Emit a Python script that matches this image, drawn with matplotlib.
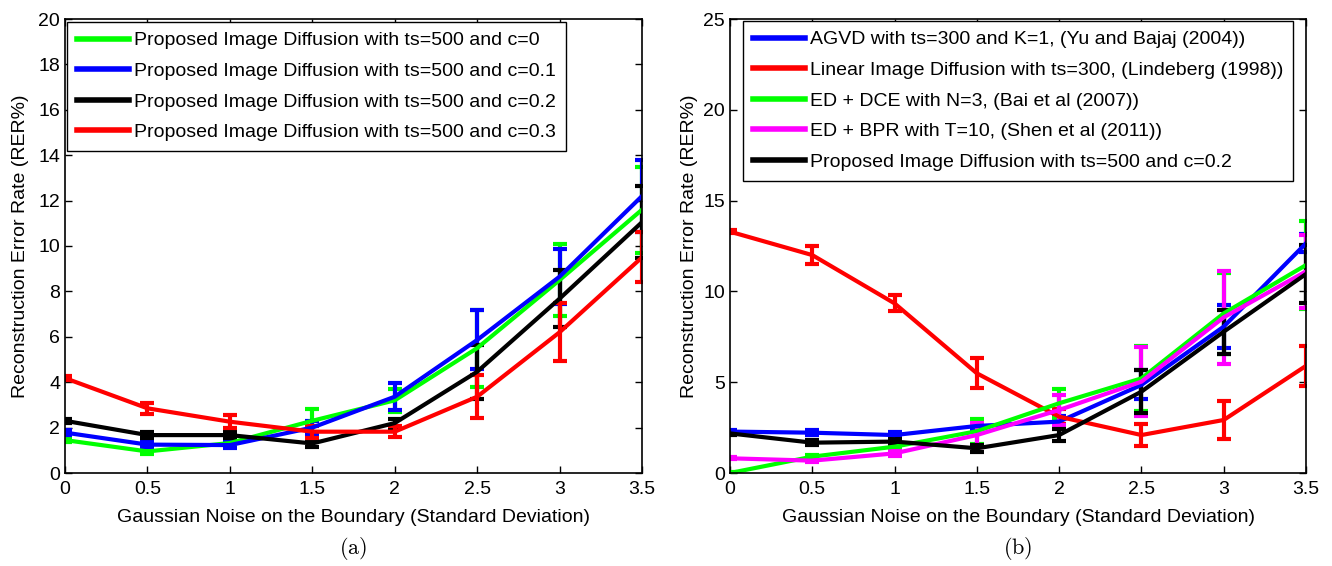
import matplotlib
matplotlib.use("Agg")
import matplotlib.pyplot as plt
from matplotlib.lines import Line2D

plt.rcParams['font.family'] = ['Liberation Sans', 'DejaVu Sans']
plt.rcParams['mathtext.fontset'] = 'cm'

noise = [0, 0.5, 1, 1.5, 2, 2.5, 3, 3.5]
xticks = [0, 0.5, 1, 1.5, 2, 2.5, 3, 3.5]
xtick_labels = ['0', '0.5', '1', '1.5', '2', '2.5', '3', '3.5']

# (a) proposed diffusion with different c
a_labels = ['Proposed Image Diffusion with ts=500 and c=0',
            'Proposed Image Diffusion with ts=500 and c=0.1',
            'Proposed Image Diffusion with ts=500 and c=0.2',
            'Proposed Image Diffusion with ts=500 and c=0.3']
a_colors = ['#00ff00', '#0000ff', '#000000', '#ff0000']
c0_mean = [1.45, 0.95, 1.32, 2.3, 3.2, 5.5, 8.5, 11.6]
c0_err = [0.1, 0.1, 0.1, 0.5, 0.5, 1.7, 1.6, 1.9]
c1_mean = [1.78, 1.25, 1.23, 2.0, 3.36, 5.86, 8.65, 12.2]
c1_err = [0.1, 0.1, 0.15, 0.3, 0.6, 1.3, 1.2, 1.6]
c2_mean = [2.3, 1.67, 1.67, 1.3, 2.2, 4.46, 7.68, 11.05]
c2_err = [0.1, 0.15, 0.15, 0.15, 0.2, 1.2, 1.25, 1.6]
c3_mean = [4.18, 2.85, 2.26, 1.82, 1.82, 3.36, 6.2, 9.5]
c3_err = [0.1, 0.25, 0.28, 0.27, 0.25, 0.95, 1.27, 1.1]

# (b) comparison with other methods
b_labels = ['AGVD with ts=300 and K=1, (Yu and Bajaj (2004))',
            'Linear Image Diffusion with ts=300, (Lindeberg (1998))',
            'ED + DCE with N=3, (Bai et al (2007))',
            'ED + BPR with T=10, (Shen et al (2011))',
            'Proposed Image Diffusion with ts=500 and c=0.2']
b_colors = ['#0000ff', '#ff0000', '#00ff00', '#ff00ff', '#000000']
agvd_mean = [2.28, 2.22, 2.09, 2.59, 2.83, 4.85, 8.06, 12.65]
agvd_err = [0.1, 0.15, 0.15, 0.15, 0.3, 0.8, 1.2, 0.5]
linear_mean = [13.29, 12.0, 9.34, 5.49, 3.1, 2.09, 2.92, 5.9]
linear_err = [0.1, 0.5, 0.44, 0.82, 0.4, 0.6, 1.04, 1.12]
dce_mean = [0.0, 0.9, 1.45, 2.3, 3.84, 5.21, 8.79, 11.45]
dce_err = [0.05, 0.1, 0.1, 0.7, 0.8, 1.8, 2.24, 2.4]
bpr_mean = [0.81, 0.68, 1.08, 2.09, 3.47, 5.03, 8.57, 11.1]
bpr_err = [0.05, 0.1, 0.15, 0.66, 0.8, 1.9, 2.57, 2.0]
prop_mean = [2.18, 1.67, 1.73, 1.36, 2.09, 4.48, 7.78, 10.96]
prop_err = [0.1, 0.15, 0.15, 0.2, 0.35, 1.2, 1.2, 1.6]

fig = plt.figure(figsize=(13.32, 5.66), dpi=100)
axa = fig.add_axes([65 / 1332, 93 / 566, 577 / 1332, 454 / 566])
axb = fig.add_axes([730 / 1332, 93 / 566, 576 / 1332, 454 / 566])


def draw(ax, means, errs, colors, labels, ymax, yticks, loc, anchor, ypad):
    for m, e, c in zip(means, errs, colors):
        ax.errorbar(noise, m, yerr=e, color=c, lw=3, elinewidth=3,
                    capsize=5, capthick=3)
    ax.set_xlim(0, 3.5)
    ax.set_ylim(0, ymax)
    ax.set_xticks(xticks)
    ax.set_xticklabels(xtick_labels)
    ax.set_yticks(yticks)
    ax.tick_params(direction='in', top=True, right=True, length=5,
                   labelsize=14, width=1)
    ax.tick_params(axis='x', pad=6)
    for s in ax.spines.values():
        s.set_linewidth(1.2)
    ax.set_xlabel('Gaussian Noise on the Boundary (Standard Deviation)',
                  fontsize=14, labelpad=8)
    ax.set_ylabel('Reconstruction Error Rate (RER%)', fontsize=14,
                  labelpad=ypad)
    handles = [Line2D([], [], color=c, lw=4) for c in colors]
    ax.legend(handles, labels, loc=loc, bbox_to_anchor=anchor,
              borderaxespad=0, fontsize=14, fancybox=False, framealpha=1,
              edgecolor='black', handlelength=2.7, handletextpad=0.25,
              labelspacing=0.67, borderpad=0.5)


draw(axa, [c0_mean, c1_mean, c2_mean, c3_mean],
     [c0_err, c1_err, c2_err, c3_err], a_colors, a_labels,
     20, list(range(0, 21, 2)), 'upper left', (2 / 577, 1 - 3 / 454), 7)
draw(axb, [agvd_mean, linear_mean, dce_mean, bpr_mean, prop_mean],
     [agvd_err, linear_err, dce_err, bpr_err, prop_err], b_colors, b_labels,
     25, list(range(0, 26, 5)), 'upper center', (0.5, 1 - 2 / 454), 4)

fig.text(353 / 1332, 18 / 566, r'$\mathrm{(a)}$', ha='center', va='center',
         fontsize=16)
fig.text(1018 / 1332, 18 / 566, r'$\mathrm{(b)}$', ha='center', va='center',
         fontsize=16)

fig.savefig('out.png', dpi=100)
